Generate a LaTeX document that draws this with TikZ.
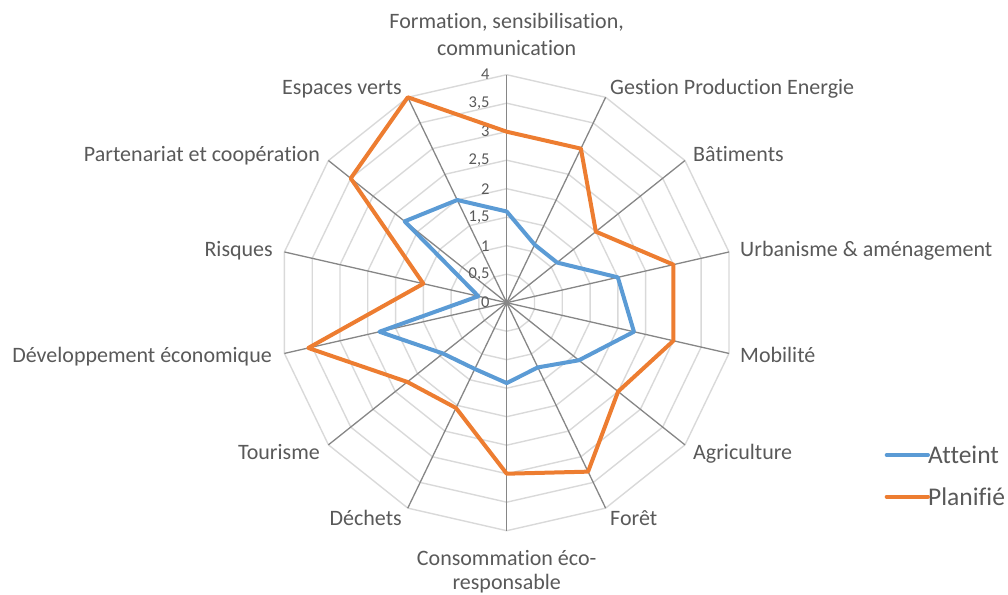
\documentclass[tikz,border=0pt]{standalone}
\usepackage{fontspec}
\setmainfont{Carlito}[Ligatures={NoCommon}]

\definecolor{atteintblue}{HTML}{5B9BD5}
\definecolor{planorange}{HTML}{ED7D31}
\definecolor{gridgray}{HTML}{D9D9D9}
\definecolor{axisgray}{HTML}{868686}
\definecolor{textgray}{HTML}{595959}

\newcommand{\unitr}{57}

\begin{document}
\begin{tikzpicture}[x=1pt, y=1pt,
  ring/.style={draw=gridgray, line width=1.4pt},
  spoke/.style={draw=axisgray, line width=1.3pt},
  serie/.style={line width=4pt, line join=round},
  lbl/.style={text=textgray, inner sep=0pt, font=\fontsize{22}{26}\selectfont},
  tick/.style={text=textgray, inner sep=0pt, font=\fontsize{16.5}{18}\selectfont},
  legtxt/.style={text=textgray, inner sep=0pt, font=\fontsize{25.5}{30}\selectfont}]
  \useasboundingbox (-506.7,-291.3) rectangle (501.3,302.7);

  % grid
  \foreach \v in {0.5,1,...,4}
    \draw[ring] (90:\v*\unitr) \foreach \k in {1,...,13}{ -- ({90-\k*360/14}:\v*\unitr)} -- cycle;
  \foreach \k in {0,...,13}
    \draw[spoke] (0,0) -- ({90-\k*360/14}:4*\unitr);

  % scale
  \foreach \v/\t [count=\i] in {0/0, 0.5/{0,5}, 1/1, 1.5/{1,5}, 2/2, 2.5/{2,5}, 3/3, 3.5/{3,5}, 4/4}
    \node[tick, anchor=east] (tick\i) at (-17, \v*\unitr) {\t};

  % axis labels
  \node[lbl, anchor=base] (form1) at (0, 274.2) {Formation, sensibilisation,};
  \node[lbl, anchor=base] (form2) at (0, 247.2) {communication};
  \node[lbl, anchor=base west] (gestion) at (103.3, 207.7) {Gestion Production Energie};
  \node[lbl, anchor=base west] (batim) at (186.3, 140.7) {Bâtiments};
  \node[lbl, anchor=base west] (urba) at (233.3, 45.7) {Urbanisme \& aménagement};
  \node[lbl, anchor=base west] (mobil) at (233.3, -59.3) {Mobilité};
  \node[lbl, anchor=base west] (agri) at (186.3, -156.3) {Agriculture};
  \node[lbl, anchor=base west] (foret) at (103.3, -222.3) {Forêt};
  \node[lbl, anchor=base] (conso1) at (0, -262.3) {Consommation éco-};
  \node[lbl, anchor=base] (conso2) at (0, -286.3) {responsable};
  \node[lbl, anchor=base east] (dechets) at (-104.7, -222.3) {Déchets};
  \node[lbl, anchor=base east] (tourisme) at (-186.7, -156.3) {Tourisme};
  \node[lbl, anchor=base east] (devel) at (-234.7, -59.3) {Développement économique};
  \node[lbl, anchor=base east] (risques) at (-233.7, 45.7) {Risques};
  \node[lbl, anchor=base east] (parten) at (-186.7, 140.7) {Partenariat et coopération};
  \node[lbl, anchor=base east] (espaces) at (-104.7, 207.7) {Espaces verts};

  % series
  \foreach \v [count=\i from 0] in {1.6,1.13,1.13,2,2.29,1.62,1.26,1.41,1.29,1.43,2.29,0.51,2.29,2}
    \coordinate (a\i) at ({90-\i*360/14}:\v*\unitr);
  \foreach \v [count=\i from 0] in {3,3,2,3,3,2.5,3.29,3,2.05,2.23,3.57,1.5,3.5,4}
    \coordinate (p\i) at ({90-\i*360/14}:\v*\unitr);
  \draw[serie, atteintblue] (a0) \foreach \i in {1,...,13}{ -- (a\i)} -- cycle;
  \draw[serie, planorange] (p0) \foreach \i in {1,...,13}{ -- (p\i)} -- cycle;

  % legend
  \node[legtxt, anchor=base west] (atteint) at (421.3, -160.6) {Atteint};
  \node[legtxt, anchor=base west] (planifie) at (421.3, -202.3) {Planifié};
  \coordinate (la) at (380, -152.3);
  \coordinate (lp) at (380, -194);
  \draw[serie, atteintblue, line cap=round] (la) -- (la -| atteint.west);
  \draw[serie, planorange, line cap=round] (lp) -- (lp -| planifie.west);
\end{tikzpicture}
\end{document}
